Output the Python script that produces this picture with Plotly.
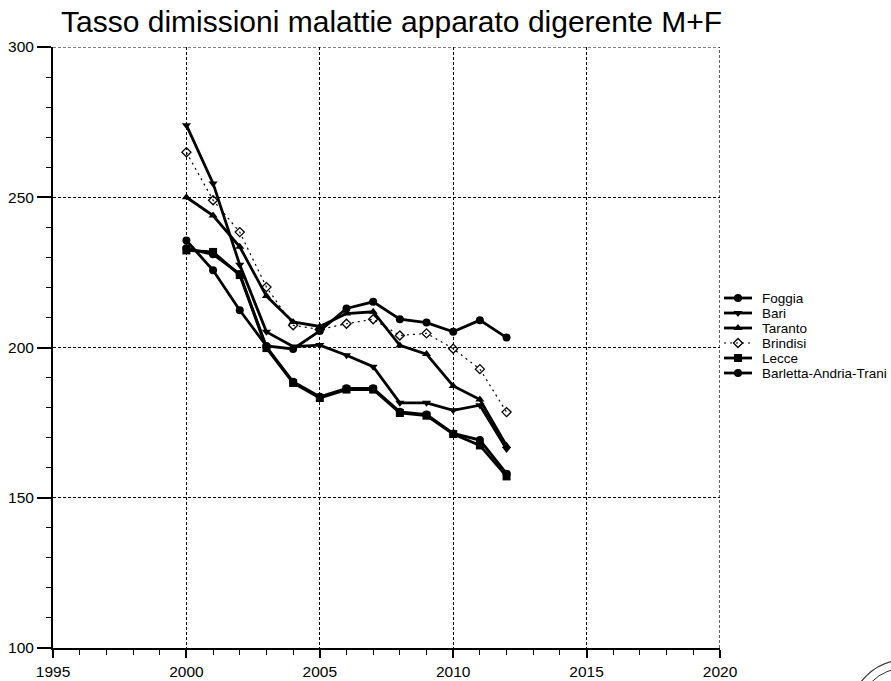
import plotly.graph_objects as go

# Rates of hospital discharges for digestive-system diseases, both sexes
years = [2000, 2001, 2002, 2003, 2004, 2005, 2006, 2007, 2008, 2009, 2010, 2011, 2012]

foggia = [235.6, 225.7, 212.4, 200.5, 199.5, 205.5, 213.0, 215.2, 209.4, 208.3, 205.2, 209.1, 203.3]
bari = [274.0, 254.6, 227.5, 205.2, 200.3, 200.8, 197.4, 193.6, 181.6, 181.6, 179.1, 180.8, 166.2]
taranto = [250.0, 243.9, 233.5, 217.1, 208.5, 207.0, 211.3, 211.9, 200.7, 197.8, 187.2, 182.7, 167.3]
brindisi = [265.0, 249.0, 238.4, 220.1, 207.4, 206.0, 207.9, 209.4, 204.0, 204.7, 199.6, 192.8, 178.5]
lecce = [232.3, 231.8, 224.1, 199.8, 188.2, 183.2, 186.0, 186.0, 178.2, 177.3, 171.2, 167.4, 157.1]
bat = [233.0, 231.0, 224.5, 200.2, 188.6, 183.6, 186.4, 186.4, 178.6, 177.7, 171.4, 169.2, 158.0]

names = ["Foggia", "Bari", "Taranto", "Brindisi", "Lecce", "Barletta-Andria-Trani"]
values = [foggia, bari, taranto, brindisi, lecce, bat]
symbols = ["circle", "triangle-down", "triangle-up", "diamond-open", "square", "circle"]

x_ticks = [1995, 2000, 2005, 2010, 2015, 2020]
y_ticks = [100, 150, 200, 250, 300]
X_MIN, X_MAX = 1995, 2020
Y_MIN, Y_MAX = 100, 300

W, H = 891, 681
PL, PR, PT, PB = 53, 720, 47, 648  # plot-area edges in pixels

SANS = "Liberation Sans, Arial, Helvetica"
TICK_FONT = dict(family=SANS, size=15.5, color="black")
GRID_DASH = "3px,2px"


def line_style(name):
    if name == "Brindisi":
        return dict(color="black", width=1.2, dash="2px,4px")
    return dict(color="black", width=2.8)


def marker_style(sym):
    if sym.endswith("-open"):
        return dict(symbol=sym, size=7, color="black", line=dict(color="black", width=1.3))
    return dict(symbol=sym, size=8, color="black", line=dict(color="black", width=0))


fig = go.Figure()

for name, vals, sym in zip(names, values, symbols):
    fig.add_trace(go.Scatter(
        x=years, y=vals, mode="lines+markers", name=name,
        line=line_style(name), marker=marker_style(sym),
        showlegend=False, xaxis="x", yaxis="y",
    ))

# Legend drawn on a pixel-scaled overlay axis to the right of the plot
LEG_X0, LEG_X1, LEG_TXT, LEG_Y0, LEG_STEP = 724, 752, 760, 298, 15
annotations = []
for i, (name, sym) in enumerate(zip(names, symbols)):
    yy = LEG_Y0 + i * LEG_STEP
    fig.add_trace(go.Scatter(
        x=[LEG_X0, LEG_X1], y=[yy, yy], mode="lines",
        line=line_style(name), showlegend=False, hoverinfo="skip",
        xaxis="x2", yaxis="y2",
    ))
    fig.add_trace(go.Scatter(
        x=[(LEG_X0 + LEG_X1) / 2], y=[yy], mode="markers",
        marker=marker_style(sym), showlegend=False, hoverinfo="skip",
        xaxis="x2", yaxis="y2",
    ))
    annotations.append(dict(
        x=LEG_TXT, y=yy, xref="x2", yref="y2", text=name, showarrow=False,
        xanchor="left", yanchor="middle",
        font=dict(family=SANS, size=13.5, color="black"),
    ))

axis_common = dict(
    showline=True, linecolor="black", linewidth=2,
    ticks="outside", tickcolor="black", tickwidth=1.5,
    showgrid=True, gridcolor="black", gridwidth=1.2, griddash=GRID_DASH,
    zeroline=False, tickfont=TICK_FONT, fixedrange=True,
)

grid_edge = dict(color="black", width=1.2, dash=GRID_DASH)

fig.update_layout(
    width=W, height=H, autosize=False,
    margin=dict(l=0, r=0, t=0, b=0, autoexpand=False),
    paper_bgcolor="white", plot_bgcolor="white",
    title=dict(
        text="Tasso dimissioni malattie apparato digerente M+F",
        font=dict(family=SANS, size=30, color="black"),
        xref="container", yref="container", x=61 / W, xanchor="left",
        y=1 - 21 / H, yanchor="middle",
    ),
    xaxis=dict(
        domain=[PL / W, PR / W], range=[X_MIN, X_MAX], anchor="y",
        tickmode="array", tickvals=x_ticks, ticktext=[str(v) for v in x_ticks],
        ticklen=8,
        minor=dict(dtick=1, tick0=X_MIN, ticks="outside", ticklen=5, tickcolor="black", tickwidth=1.2, showgrid=False),
        **axis_common,
    ),
    yaxis=dict(
        domain=[1 - PB / H, 1 - PT / H], range=[Y_MIN, Y_MAX], anchor="x",
        tickmode="array", tickvals=y_ticks, ticktext=[str(v) for v in y_ticks],
        ticklen=14,
        minor=dict(dtick=10, tick0=Y_MIN, ticks="outside", ticklen=5, tickcolor="black", tickwidth=1.2, showgrid=False),
        **axis_common,
    ),
    xaxis2=dict(domain=[PR / W, 1], range=[PR, W], visible=False, anchor="y2", fixedrange=True),
    yaxis2=dict(domain=[0, 1], range=[H, 0], visible=False, anchor="x2", fixedrange=True),
    annotations=annotations,
    showlegend=False,
    shapes=[
        # dashed grid lines along the top and right edges of the plot
        dict(type="line", xref="x", yref="y", x0=X_MIN, x1=X_MAX, y0=Y_MAX, y1=Y_MAX, line=grid_edge),
        dict(type="line", xref="x", yref="y", x0=X_MAX, x1=X_MAX, y0=Y_MIN, y1=Y_MAX, line=grid_edge),
        # office stamp in the corner
        dict(type="circle", xref="paper", yref="paper",
             x0=(905 - 55) / W, x1=(905 + 55) / W, y0=1 - 770 / H, y1=1 - 660 / H,
             line=dict(color="#333", width=1.2)),
        dict(type="circle", xref="paper", yref="paper",
             x0=(905 - 47) / W, x1=(905 + 47) / W, y0=1 - 762 / H, y1=1 - 668 / H,
             line=dict(color="#333", width=1)),
    ],
)

fig.write_html("out.html")
